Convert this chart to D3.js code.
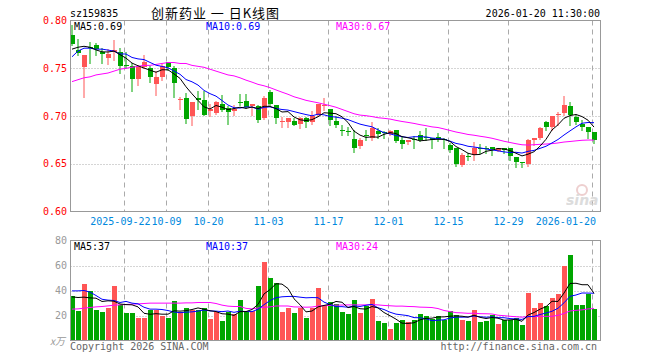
<!DOCTYPE html>
<html><head><meta charset="utf-8">
<script src="https://cdn.jsdelivr.net/npm/d3@7"></script>
<style>body{margin:0;background:#fff}svg{display:block}</style>
</head><body>
<svg id="c" width="660" height="360"></svg>
<script>
const dates = ["2025-09-09","2025-09-10","2025-09-11","2025-09-12","2025-09-15","2025-09-16","2025-09-17","2025-09-18","2025-09-19","2025-09-22",
"2025-09-23","2025-09-24","2025-09-25","2025-09-26","2025-09-29","2025-09-30","2025-10-09","2025-10-10","2025-10-13","2025-10-14",
"2025-10-15","2025-10-16","2025-10-17","2025-10-20","2025-10-21","2025-10-22","2025-10-23","2025-10-24","2025-10-27","2025-10-28",
"2025-10-29","2025-10-30","2025-10-31","2025-11-03","2025-11-04","2025-11-05","2025-11-06","2025-11-07","2025-11-10","2025-11-11",
"2025-11-12","2025-11-13","2025-11-14","2025-11-17","2025-11-18","2025-11-19","2025-11-20","2025-11-21","2025-11-24","2025-11-25",
"2025-11-26","2025-11-27","2025-11-28","2025-12-01","2025-12-02","2025-12-03","2025-12-04","2025-12-05","2025-12-08","2025-12-09",
"2025-12-10","2025-12-11","2025-12-12","2025-12-15","2025-12-16","2025-12-17","2025-12-18","2025-12-19","2025-12-22","2025-12-23",
"2025-12-24","2025-12-25","2025-12-26","2025-12-29","2025-12-30","2025-12-31","2026-01-05","2026-01-06","2026-01-07","2026-01-08",
"2026-01-09","2026-01-12","2026-01-13","2026-01-14","2026-01-15","2026-01-16","2026-01-19","2026-01-20"];

const open  = [0.785,0.769,0.751,0.772,0.774,0.767,0.761,0.767,0.767,0.753,
0.752,0.739,0.751,0.750,0.734,0.741,0.757,0.750,0.717,0.719,
0.700,0.719,0.717,0.705,0.703,0.713,0.708,0.705,0.715,0.716,
0.710,0.710,0.698,0.725,0.712,0.694,0.694,0.695,0.692,0.698,
0.694,0.701,0.711,0.707,0.695,0.685,0.684,0.676,0.669,0.680,
0.677,0.684,0.683,0.681,0.685,0.675,0.673,0.676,0.680,0.678,
0.677,0.678,0.676,0.670,0.666,0.649,0.658,0.659,0.667,0.667,
0.668,0.663,0.667,0.666,0.657,0.652,0.650,0.675,0.677,0.694,
0.688,0.701,0.703,0.710,0.699,0.692,0.688,0.683];
const high  = [0.795,0.781,0.764,0.778,0.776,0.771,0.770,0.780,0.771,0.767,
0.755,0.753,0.764,0.752,0.747,0.754,0.757,0.752,0.720,0.724,
0.715,0.726,0.726,0.713,0.716,0.722,0.710,0.712,0.723,0.723,
0.713,0.712,0.721,0.727,0.712,0.699,0.698,0.698,0.699,0.699,
0.705,0.713,0.719,0.707,0.700,0.691,0.689,0.685,0.677,0.685,
0.694,0.687,0.684,0.685,0.685,0.679,0.675,0.679,0.684,0.687,
0.677,0.682,0.677,0.672,0.666,0.661,0.661,0.673,0.671,0.669,
0.668,0.667,0.667,0.667,0.657,0.652,0.676,0.677,0.689,0.695,
0.700,0.704,0.721,0.715,0.701,0.696,0.688,0.683];
const low   = [0.774,0.764,0.720,0.756,0.764,0.755,0.754,0.759,0.745,0.750,
0.726,0.732,0.750,0.736,0.722,0.738,0.748,0.720,0.707,0.693,
0.691,0.707,0.701,0.700,0.702,0.705,0.692,0.701,0.712,0.708,
0.701,0.694,0.697,0.712,0.693,0.688,0.689,0.691,0.687,0.689,
0.692,0.700,0.706,0.691,0.688,0.680,0.680,0.662,0.667,0.675,
0.675,0.677,0.677,0.680,0.673,0.667,0.671,0.667,0.674,0.675,
0.667,0.674,0.667,0.662,0.648,0.648,0.654,0.654,0.661,0.661,
0.659,0.663,0.661,0.654,0.647,0.647,0.648,0.670,0.676,0.685,
0.685,0.691,0.701,0.691,0.692,0.685,0.677,0.672];
const close = [0.775,0.766,0.764,0.771,0.770,0.765,0.765,0.769,0.752,0.752,
0.739,0.751,0.757,0.741,0.741,0.752,0.751,0.735,0.718,0.697,
0.715,0.717,0.701,0.707,0.715,0.706,0.704,0.707,0.714,0.709,
0.713,0.696,0.719,0.713,0.698,0.695,0.698,0.691,0.698,0.694,
0.700,0.713,0.712,0.696,0.691,0.684,0.683,0.667,0.675,0.679,
0.687,0.681,0.682,0.684,0.674,0.671,0.675,0.675,0.675,0.677,
0.675,0.676,0.675,0.664,0.650,0.659,0.657,0.667,0.666,0.666,
0.665,0.666,0.664,0.658,0.652,0.651,0.675,0.677,0.687,0.688,
0.700,0.702,0.711,0.701,0.694,0.689,0.683,0.675];
const volume = [36,23.7,45.3,39.7,24.5,22.9,26.4,43.7,28.5,22.1,
22.1,18.1,18.1,24.5,24.5,20,18.1,31.7,23.2,26.4,
24.5,24.5,26.4,17.3,23,15.7,23.2,21.1,32.5,23.2,
24,43.5,63,50,46.4,22.7,25.9,21.9,26.1,17.9,
26.1,42.4,27.7,31,29,22.8,21,32.3,22,27.5,
33,15.6,13.8,9.2,13.8,16.8,14.7,16.5,21,19.5,
17.6,19.6,16.8,23.7,20.5,16.5,16,24.5,15.2,15.7,
20.5,13.3,16.5,16.5,17.9,12.5,38.4,26.4,30.1,27.7,
34.4,37.6,60,68.5,28.5,28.5,37.6,25.3];

// moving-average values at the left edge (window reaches before the first visible day)
const priceMa5Head  = [0.770,0.772,0.773,0.772];
const priceMa10Head = [0.762,0.768,0.771,0.771,0.770,0.770,0.769,0.768,0.765];
const priceMa30Head = [0.736,0.738,0.740,0.741,0.743,0.744,0.745,0.747,0.749,0.750,
0.751,0.752,0.753,0.753,0.754,0.755,0.756,0.756,0.755,0.755,
0.753,0.752,0.751,0.749,0.747,0.745,0.743,0.742,0.740];
const volMa5Head  = [34.9,34.4,34.7,34.1];
const volMa10Head = [39.7,39.7,40,38.7,36,33,32.3,32,30.4];
const volMa30Head = [25.1,25.3,25.9,26.4,26.9,27.2,27.7,28.3,28.5,28.8,
29.1,29.3,29.6,29.9,29.9,29.9,29.9,29.9,29.9,30.1,
30.1,30.4,30.4,30.4,29.6,28.3,27.5,27.2,27.2];

const tickDates  = ["2025-09-22","2025-10-09","2025-10-20","2025-11-03","2025-11-17","2025-12-01","2025-12-15","2025-12-29","2026-01-20"];
const tickLabels = ["2025-09-22","10-09","10-20","11-03","11-17","12-01","12-15","12-29","2026-01-20"];
const priceTicks = [0.60,0.65,0.70,0.75,0.80];
const volTicks   = [20,40,60,80];
const symbol = "sz159835";
const title = "创新药业 一 日K线图";
const stamp = "2026-01-20 11:30:00";
const priceMaLabels = ["MA5:0.69","MA10:0.69","MA30:0.67"];
const volMaLabels   = ["MA5:37","MA10:37","MA30:24"];
const volUnit = "x万";

const RED = "#ff5555", GREEN = "#00a600";
const MA_COLORS = ["#000000","#0000ff","#ff00ff"];
const MONO = "'DejaVu Sans Mono', monospace";

function movingAvg(vals, n, head) {
  return vals.map((v, i) => i < n - 1 ? head[i] : d3.mean(vals.slice(i - n + 1, i + 1)));
}

const svg = d3.select("#c");
const L = 70.5, R = 600.5;
const P = {top: 20.5, bottom: 211.5};
const V = {top: 240.5, bottom: 340.5};

const x = d3.scaleBand().domain(dates).range([69.5, 597.5]).paddingInner(0).paddingOuter(0);
const cx = d => x(d) + 3;
const yP = d3.scaleLinear().domain([0.60, 0.80]).range([P.bottom, P.top]);
const yV = d3.scaleLinear().domain([0, 80]).range([V.bottom, V.top]);

const rows = dates.map((d, i) => ({d, o: open[i], h: high[i], l: low[i], c: close[i], v: volume[i], up: close[i] >= open[i]}));

// ---------- grids ----------
function grid(g, top, bottom, ticks, yScale) {
  g.selectAll("line.h").data(ticks).join("line")
    .attr("x1", L).attr("x2", R)
    .attr("y1", d => Math.round(yScale(d)) + 0.5).attr("y2", d => Math.round(yScale(d)) + 0.5)
    .attr("stroke", "#aaa").attr("stroke-dasharray", "1,2");
  g.selectAll("line.v").data(tickDates).join("line")
    .attr("x1", d => x(d) + 1).attr("x2", d => x(d) + 1)
    .attr("y1", top).attr("y2", bottom)
    .attr("stroke", "#aaa").attr("stroke-dasharray", "5,4");
}
grid(svg.append("g"), P.top, P.bottom, [0.65, 0.70, 0.75], yP);
grid(svg.append("g"), V.top, V.bottom, [20, 40, 60], yV);

// ---------- candles ----------
const cg = svg.append("g");
cg.selectAll("line.w").data(rows).join("line")
  .attr("x1", d => cx(d.d) - 0.5).attr("x2", d => cx(d.d) - 0.5)
  .attr("y1", d => Math.round(yP(d.h))).attr("y2", d => Math.round(yP(d.l)) + 1)
  .attr("stroke", d => d.up ? RED : GREEN).attr("stroke-width", 1);
cg.selectAll("rect").data(rows).join("rect")
  .attr("x", d => x(d.d) + 0.5)
  .attr("width", 5)
  .attr("y", d => Math.round(yP(Math.max(d.o, d.c))))
  .attr("height", d => Math.max(1, Math.round(yP(Math.min(d.o, d.c))) - Math.round(yP(Math.max(d.o, d.c)))))
  .attr("fill", d => d.up ? RED : GREEN);

// ---------- volume bars ----------
svg.append("g").selectAll("rect").data(rows).join("rect")
  .attr("x", d => x(d.d) + 0.5).attr("width", 5)
  .attr("y", d => Math.round(yV(d.v)))
  .attr("height", d => V.bottom - Math.round(yV(d.v)))
  .attr("fill", d => d.up ? RED : GREEN);

// ---------- MA lines ----------
const priceMAs = [movingAvg(close, 5, priceMa5Head), movingAvg(close, 10, priceMa10Head), movingAvg(close, 30, priceMa30Head)];
const volMAs = [movingAvg(volume, 5, volMa5Head), movingAvg(volume, 10, volMa10Head), movingAvg(volume, 30, volMa30Head)];
function drawMAs(series, yScale) {
  series.slice().reverse().forEach((s, k) => {
    const idx = series.length - 1 - k;
    svg.append("path").datum(s)
      .attr("fill", "none").attr("stroke", MA_COLORS[idx]).attr("stroke-width", 1)
      .attr("d", d3.line().x((v, i) => cx(dates[i]) - 0.5).y(v => yScale(v)));
  });
}
drawMAs(priceMAs, yP);
drawMAs(volMAs, yV);

// ---------- frames ----------
svg.append("rect").attr("x", L).attr("y", P.top).attr("width", R - L).attr("height", P.bottom - P.top)
  .attr("fill", "none").attr("stroke", "#999");
svg.append("rect").attr("x", L).attr("y", V.top).attr("width", R - L).attr("height", V.bottom - V.top)
  .attr("fill", "none").attr("stroke", "#999");

// ---------- axes labels ----------
svg.append("g").selectAll("text").data(priceTicks).join("text")
  .attr("x", 67).attr("y", d => yP(d) + 3.5).attr("text-anchor", "end")
  .attr("font-family", MONO).attr("font-size", 10).attr("fill", "#ff0000")
  .text(d => d.toFixed(2));
svg.append("g").selectAll("text").data(volTicks).join("text")
  .attr("x", 67).attr("y", d => yV(d) + 3.5).attr("text-anchor", "end")
  .attr("font-family", MONO).attr("font-size", 10).attr("fill", "#999")
  .text(d => d);
svg.append("text").attr("x", 65).attr("y", yV(0) + 4).attr("text-anchor", "end")
  .attr("font-family", "'Noto Sans CJK SC', sans-serif").attr("font-size", 10).attr("fill", "#999")
  .attr("font-style", "italic").text(volUnit);

// date labels: centred on their grid line; first one ends where "10-09" begins, last one kept inside the frame
const last = tickDates.length - 1;
svg.append("g").selectAll("text").data(tickDates).join("text")
  .attr("x", (d, i) => i === last ? 596 : i === 0 ? x(tickDates[1]) - 15 : i === 1 ? x(d) - 14 : x(d) + 1)
  .attr("y", 225)
  .attr("text-anchor", (d, i) => i === last || i === 0 ? "end" : i === 1 ? "start" : "middle")
  .attr("font-family", MONO).attr("font-size", 10).attr("fill", "#0088dd")
  .text((d, i) => tickLabels[i]);

// ---------- MA legends ----------
const legendX = [74, 206, 336];
priceMaLabels.forEach((t, i) => svg.append("text").attr("x", legendX[i]).attr("y", 30)
  .attr("font-family", MONO).attr("font-size", 10).attr("fill", MA_COLORS[i]).text(t));
volMaLabels.forEach((t, i) => svg.append("text").attr("x", legendX[i]).attr("y", 250)
  .attr("font-family", MONO).attr("font-size", 10).attr("fill", MA_COLORS[i]).text(t));

// ---------- header ----------
svg.append("text").attr("x", 70).attr("y", 17).attr("font-family", MONO).attr("font-size", 10).attr("fill", "#000").text(symbol);
svg.append("text").attr("x", 151).attr("y", 18).attr("font-family", "'Noto Sans CJK SC', sans-serif")
  .attr("font-size", 13).attr("fill", "#000").attr("textLength", 128).attr("lengthAdjust", "spacing").text(title);
svg.append("text").attr("x", 600).attr("y", 17).attr("text-anchor", "end").attr("font-family", MONO).attr("font-size", 10).attr("fill", "#000").text(stamp);

// ---------- footer ----------
svg.append("text").attr("x", 70).attr("y", 350).attr("font-family", MONO).attr("font-size", 10).attr("fill", "#666").text("Copyright 2026 SINA.COM");
svg.append("text").attr("x", 597).attr("y", 350).attr("text-anchor", "end").attr("font-family", MONO).attr("font-size", 10).attr("fill", "#666").text("http://finance.sina.com.cn");

// ---------- watermark ----------
const wm = svg.append("g").attr("opacity", 0.8);
wm.append("circle").attr("cx", 582).attr("cy", 190).attr("r", 5).attr("fill", "none").attr("stroke", "#eac4c4").attr("stroke-width", 2);
wm.append("text").attr("x", 566).attr("y", 205).attr("font-family", "'DejaVu Sans', sans-serif").attr("font-weight", "bold")
  .attr("font-style", "italic").attr("font-size", 14).attr("fill", "#d4d4d4").text("sina");
</script>
</body></html>
